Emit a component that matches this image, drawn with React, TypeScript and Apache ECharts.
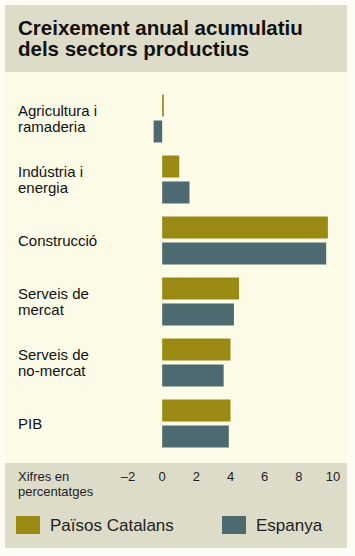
import React, { useEffect, useRef } from "react";
import * as echarts from "echarts";

const categories = [
  "Agricultura i\nramaderia",
  "Indústria i\nenergia",
  "Construcció",
  "Serveis de\nmercat",
  "Serveis de\nno-mercat",
  "PIB",
];
const paisosCatalans = [0.1, 1.0, 9.7, 4.5, 4.0, 4.0];
const espanya = [-0.5, 1.6, 9.6, 4.2, 3.6, 3.9];
const seriesNames = ["Països Catalans", "Espanya"];
const titleText = "Creixement anual acumulatiu\ndels sectors productius";
const unitText = "Xifres en\npercentatges";

const GOLD = "#9a8912";
const TEAL = "#4c6a70";
const FONT = "'Liberation Sans', Arial, sans-serif";

export default function App() {
  const ref = useRef<HTMLDivElement>(null);
  useEffect(() => {
    if (!ref.current) return;
    const chart = echarts.init(ref.current, undefined, { renderer: "svg" });
    chart.setOption({
      animation: false,
      backgroundColor: "#fdfdf5",
      textStyle: { fontFamily: FONT },
      title: {
        text: titleText,
        left: 18,
        top: 17,
        padding: 0,
        textStyle: {
          fontFamily: FONT,
          fontSize: 20.5,
          fontWeight: "bold",
          color: "#111",
          lineHeight: 21,
        },
      },
      graphic: [
        { type: "rect", z: -10, shape: { x: 5, y: 5, width: 342, height: 67 }, style: { fill: "#dddcc9" } },
        { type: "rect", z: -10, shape: { x: 5, y: 72, width: 342, height: 391 }, style: { fill: "#fcfbe8" } },
        { type: "rect", z: -10, shape: { x: 5, y: 463, width: 342, height: 85 }, style: { fill: "#dddcc9" } },
        {
          type: "text",
          left: 18,
          top: 469,
          style: { text: unitText, font: `13px ${FONT}`, fill: "#222", lineHeight: 15 },
        },
      ],
      legend: [
        {
          data: [seriesNames[0]],
          left: 16,
          top: 516,
          itemWidth: 24,
          itemHeight: 18,
          icon: "rect",
          textStyle: { fontFamily: FONT, fontSize: 17, color: "#222", padding: [0, 0, 0, 5] },
          padding: 0,
        },
        {
          data: [seriesNames[1]],
          left: 222,
          top: 516,
          itemWidth: 24,
          itemHeight: 18,
          icon: "rect",
          textStyle: { fontFamily: FONT, fontSize: 17, color: "#222", padding: [0, 0, 0, 5] },
          padding: 0,
        },
      ],
      grid: { left: 128, right: 22, top: 88, height: 366 },
      xAxis: {
        type: "value",
        min: -2,
        max: 10,
        interval: 2,
        axisLine: { show: false },
        axisTick: { show: false },
        splitLine: { show: false },
        axisLabel: {
          margin: 16,
          fontSize: 13,
          color: "#222",
          fontFamily: FONT,
          formatter: (v: number) => (v < 0 ? "\u2013" + Math.abs(v) : String(v)),
        },
      },
      yAxis: {
        type: "category",
        data: categories,
        inverse: true,
        axisLine: { show: false },
        axisTick: { show: false },
        axisLabel: {
          align: "left",
          margin: 110,
          fontSize: 15,
          lineHeight: 16,
          color: "#111",
          fontFamily: FONT,
        },
      },
      series: [
        {
          name: seriesNames[0],
          type: "bar",
          data: paisosCatalans,
          barWidth: 22,
          barGap: "18%",
          itemStyle: { color: GOLD },
        },
        {
          name: seriesNames[1],
          type: "bar",
          data: espanya,
          barWidth: 22,
          barGap: "18%",
          itemStyle: { color: TEAL },
        },
      ],
    });
    return () => chart.dispose();
  }, []);
  return <div ref={ref} style={{ width: 355, height: 556, position: "absolute", left: 0, top: 0 }} />;
}
